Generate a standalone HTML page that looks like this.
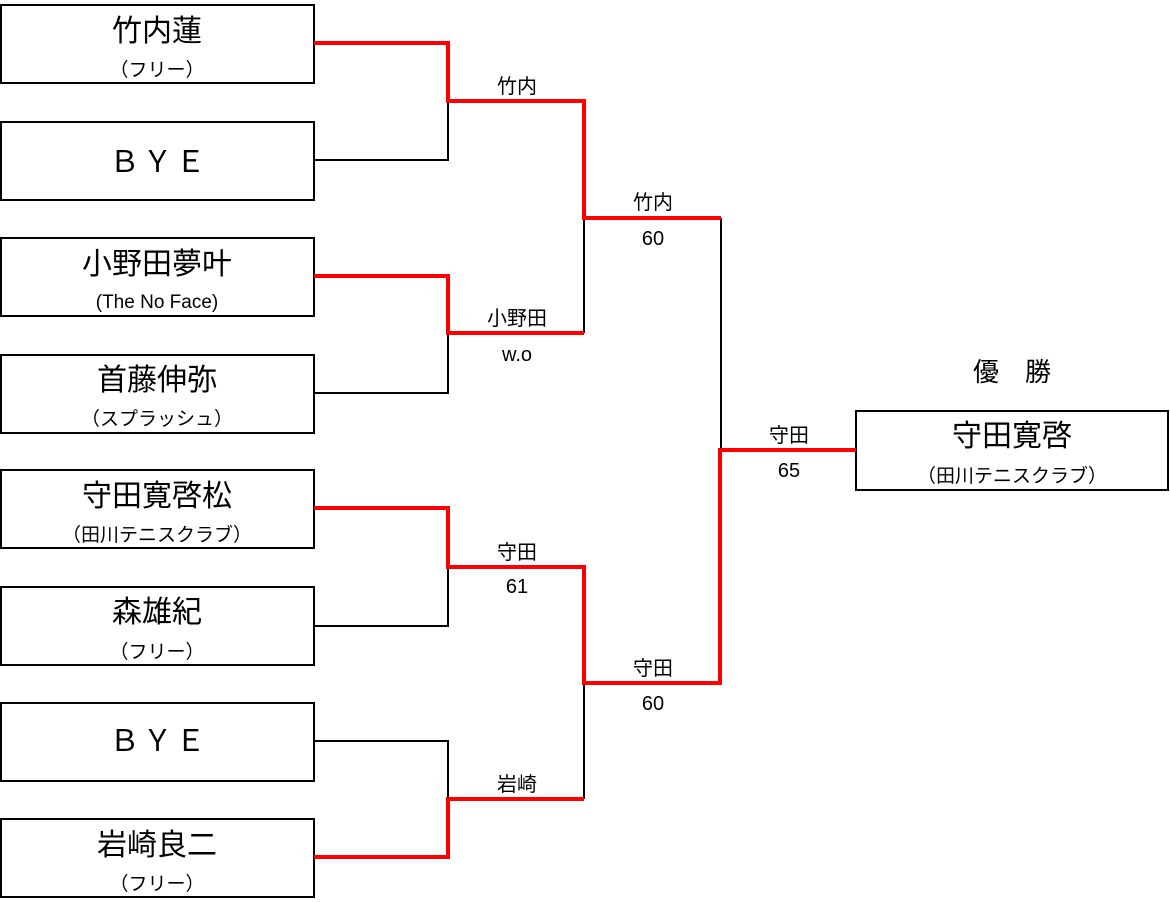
<!DOCTYPE html>
<html><head><meta charset="utf-8"><style>
body{margin:0;background:#fff}
svg text{font-family:"Liberation Sans","Noto Sans CJK JP",sans-serif;fill:#000}
</style></head><body>
<svg width="1170" height="898" xmlns="http://www.w3.org/2000/svg">
<g fill="none" stroke="#000" stroke-width="2">
<rect x="1" y="5" width="313" height="78"/>
<rect x="1" y="122" width="313" height="78"/>
<rect x="1" y="238" width="313" height="78"/>
<rect x="1" y="355" width="313" height="78"/>
<rect x="1" y="470" width="313" height="78"/>
<rect x="1" y="587" width="313" height="78"/>
<rect x="1" y="703" width="313" height="78"/>
<rect x="1" y="819" width="313" height="78"/>
<rect x="856" y="411" width="312" height="79"/>
<polyline points="314,160 448,160 448,101"/>
<polyline points="314,393 448,393 448,333"/>
<polyline points="584,218 584,333"/>
<polyline points="721,218 721,450"/>
<polyline points="314,626 448,626 448,567"/>
<polyline points="314,741 448,741 448,799"/>
<polyline points="584,683 584,799"/>
</g>
<g fill="none" stroke="#f00" stroke-width="4" stroke-linejoin="miter">
<polyline points="314,43 448,43 448,101 584,101 584,218 721,218"/>
<polyline points="314,276 448,276 448,333 584,333"/>
<polyline points="314,508 448,508 448,567 584,567 584,683 720,683 720,450 856,450"/>
<polyline points="314,857 448,857 448,799 584,799"/>
</g>
<g text-anchor="middle">
<text x="157" y="41" font-size="30">竹内蓮</text>
<text x="157" y="76" font-size="19">（フリー）</text>
<text x="159" y="172" font-size="30" letter-spacing="3">ＢＹＥ</text>
<text x="157" y="274" font-size="30">小野田夢叶</text>
<text x="157" y="308" font-size="19">(The No Face)</text>
<text x="157" y="390" font-size="30">首藤伸弥</text>
<text x="157" y="425" font-size="19">（スプラッシュ）</text>
<text x="157" y="506" font-size="30">守田寛啓松</text>
<text x="157" y="541" font-size="19">（田川テニスクラブ）</text>
<text x="157" y="622" font-size="30">森雄紀</text>
<text x="157" y="658" font-size="19">（フリー）</text>
<text x="159" y="751" font-size="30" letter-spacing="3">ＢＹＥ</text>
<text x="157" y="855" font-size="30">岩崎良二</text>
<text x="157" y="890" font-size="19">（フリー）</text>
<text x="1012" y="381" font-size="26">優　勝</text>
<text x="1012" y="446" font-size="30">守田寛啓</text>
<text x="1012" y="482" font-size="19">（田川テニスクラブ）</text>
<g font-size="20">
<text x="517" y="93">竹内</text>
<text x="653" y="209">竹内</text>
<text x="653" y="245">60</text>
<text x="517" y="325">小野田</text>
<text x="517" y="361">w.o</text>
<text x="789" y="442">守田</text>
<text x="789" y="477">65</text>
<text x="517" y="559">守田</text>
<text x="517" y="593">61</text>
<text x="653" y="675">守田</text>
<text x="653" y="710">60</text>
<text x="517" y="791">岩崎</text>
</g>
</g>
</svg>
</body></html>
